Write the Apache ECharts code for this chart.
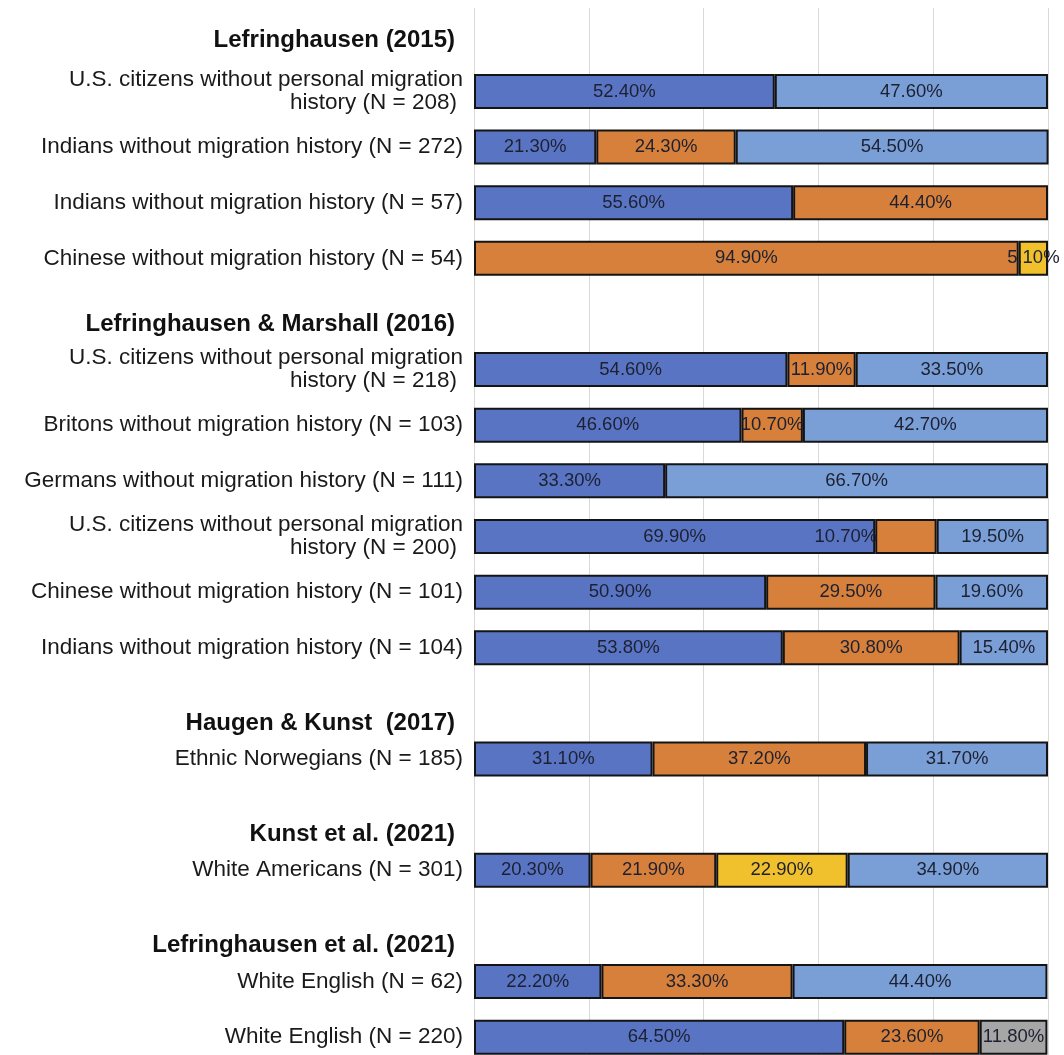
<!DOCTYPE html>
<html>
<head>
<meta charset="utf-8">
<script src="https://cdn.jsdelivr.net/npm/echarts@6/dist/echarts.min.js"></script>
<style>
html,body{margin:0;padding:0;background:#fff;}
#chart{width:1064px;height:1055px;}
</style>
</head>
<body>
<div id="chart"></div>
<script>
const categories = [
  'Lefringhausen (2015)',
  'U.S. citizens without personal migration\nhistory (N = 208)',
  'Indians without migration history (N = 272)',
  'Indians without migration history (N = 57)',
  'Chinese without migration history (N = 54)',
  'Lefringhausen & Marshall (2016)',
  'U.S. citizens without personal migration\nhistory (N = 218)',
  'Britons without migration history (N = 103)',
  'Germans without migration history (N = 111)',
  'U.S. citizens without personal migration\nhistory (N = 200)',
  'Chinese without migration history (N = 101)',
  'Indians without migration history (N = 104)',
  'Haugen & Kunst  (2017)',
  'Ethnic Norwegians (N = 185)',
  'Kunst et al. (2021)',
  'White Americans (N = 301)',
  'Lefringhausen et al. (2021)',
  'White English (N = 62)',
  'White English (N = 220)'
];
const headerRows = [0, 5, 12, 14, 16];

const seriesNames = ['Series 1', 'Series 2', 'Series 3', 'Series 4', 'Series 5'];
const series1 = [null, 52.4, 21.3, 55.6, null, null, 54.6, 46.6, 33.3, 69.9, 50.9, 53.8, null, 31.1, null, 20.3, null, 22.2, 64.5];
const series2 = [null, null, 24.3, 44.4, 94.9, null, 11.9, 10.7, null, 10.7, 29.5, 30.8, null, 37.2, null, 21.9, null, 33.3, 23.6];
const series3 = [null, null, null, null, 5.1, null, null, null, null, null, null, null, null, null, null, 22.9, null, null, null];
const series4 = [null, 47.6, 54.5, null, null, null, 33.5, 42.7, 66.7, 19.5, 19.6, 15.4, null, 31.7, null, 34.9, null, 44.4, null];
const series5 = [null, null, null, null, null, null, null, null, null, null, null, null, null, null, null, null, null, null, 11.8];

const xTicks = [0, 20, 40, 60, 80, 100];

// styling
const colors = ['#5A74C4', '#D6803B', '#F1C12D', '#7A9ED6', '#A6A6A6'];
const headerShift = {0: 10, 5: 20, 12: 40, 14: 39, 16: 39}; // rich padding-top per header row
const labelNudge = {1: {9: [-60, 0]}}; // series index -> row -> label offset
const FONT = 'Liberation Sans, Arial, sans-serif';

const allSeries = [series1, series2, series3, series4, series5];

const rich = {
  n: {fontSize: 22.5, fontFamily: FONT, color: '#1a1a1a', lineHeight: 23, align: 'right'},
  m: {fontSize: 22.5, fontFamily: FONT, color: '#1a1a1a', lineHeight: 23, align: 'right', padding: [0, 6, 0, 0]}
};
Object.keys(headerShift).forEach(k => {
  rich['h' + k] = {fontSize: 24, fontWeight: 'bold', fontFamily: FONT,
    color: '#111', lineHeight: 24, padding: [headerShift[k], 8, 0, 0], align: 'right'};
});

const chart = echarts.init(document.getElementById('chart'), null, {renderer: 'canvas'});
chart.setOption({
  backgroundColor: '#fff',
  animation: false,
  grid: {left: 474, right: 16, top: 8, height: 1057, containLabel: false, outerBoundsMode: 'none'},
  xAxis: {
    type: 'value', min: xTicks[0], max: xTicks[xTicks.length - 1], interval: xTicks[1] - xTicks[0],
    axisLabel: {show: false}, axisLine: {show: false}, axisTick: {show: false},
    splitLine: {show: true, lineStyle: {color: '#d9d9d9', width: 1}}
  },
  yAxis: {
    type: 'category', inverse: true, data: categories,
    axisLine: {show: false}, axisTick: {show: false},
    axisLabel: {
      margin: 11, interval: 0,
      formatter: (v, i) => {
        if (headerRows.indexOf(i) >= 0) return '{h' + i + '|' + v + '}';
        return v.split('\n').map((s, j) => (j === 0 ? '{n|' : '{m|') + s + '}').join('\n');
      },
      rich: rich
    }
  },
  series: allSeries.map((arr, si) => ({
    name: seriesNames[si],
    type: 'bar',
    stack: 'total',
    barWidth: 35,
    itemStyle: {color: colors[si], borderColor: '#141414', borderWidth: 2},
    label: {
      show: true, position: 'inside', color: '#1c2030', fontSize: 18.5,
      fontFamily: FONT,
      formatter: p => p.value.toFixed(2) + '%'
    },
    data: arr.map((v, ri) => {
      if (v === null) return null;
      const nudge = labelNudge[si] && labelNudge[si][ri];
      return nudge ? {value: v, label: {offset: nudge}} : v;
    })
  }))
});
</script>
</body>
</html>
